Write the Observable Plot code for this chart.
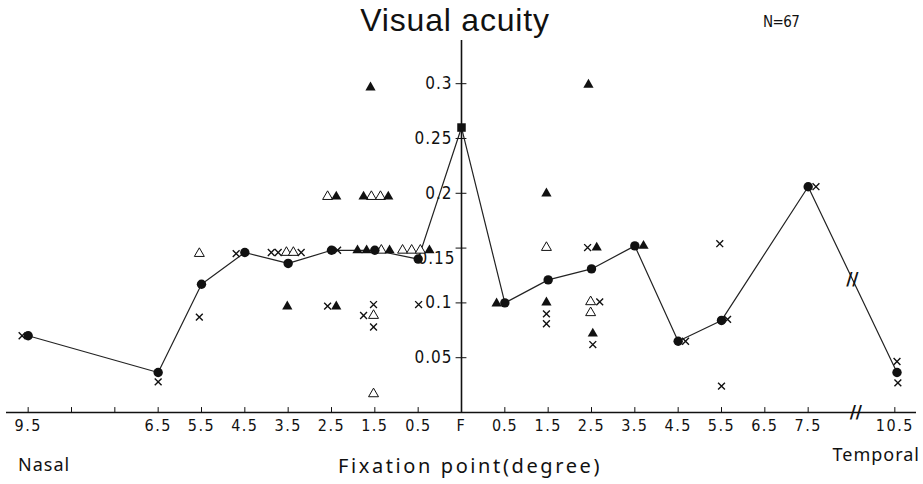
<!DOCTYPE html>
<html><head><meta charset="utf-8">
<script src="https://cdn.jsdelivr.net/npm/d3@7"></script>
<script src="https://cdn.jsdelivr.net/npm/@observablehq/plot@0.6"></script>
<style>body{margin:0;background:#fff;}</style>
</head><body><div id="chart"></div>
<script>
// x positions are "slots": F = 0, nasal negative, temporal positive (axis break before 10.5)
const xTickSlots  = [-10, -9, -8, -7, -6, -5, -4, -3, -2, -1, 0, 1, 2, 3, 4, 5, 6, 7, 8, 10];
const xTickLabels = ["9.5", "", "", "6.5", "5.5", "4.5", "3.5", "2.5", "1.5", "0.5", "F",
                     "0.5", "1.5", "2.5", "3.5", "4.5", "5.5", "6.5", "7.5", "10.5"];
const yTickValues = [0.05, 0.1, 0.15, 0.2, 0.25, 0.3];
const yTickLabels = ["0.05", "0.1", "0.15", "0.2", "0.25", "0.3"];

// mean visual acuity (filled circles, connected)
const meanSlot  = [-10, -7, -6, -5, -4, -3, -2, -1, 0, 1, 2, 3, 4, 5, 6, 8, 10.05];
const meanValue = [0.070, 0.0365, 0.117, 0.146, 0.136, 0.148, 0.148, 0.140, 0.260,
                   0.100, 0.121, 0.131, 0.152, 0.065, 0.084, 0.206, 0.0365];

// individual values: crosses
const crossSlot  = [-10.14, -7.0, -6.05, -5.2, -4.39, -4.23, -3.7, -2.86, -3.09, -2.03, -2.26, -2.03, -0.99,
                    1.96, 1.96, 2.91, 3.19, 3.03, 5.17, 5.96, 6.14, 6.0, 8.18, 10.05, 10.07];
const crossValue = [0.070, 0.028, 0.087, 0.145, 0.146, 0.146, 0.146, 0.148, 0.097, 0.0985, 0.0885, 0.078, 0.0985,
                    0.090, 0.081, 0.1505, 0.101, 0.062, 0.065, 0.154, 0.085, 0.024, 0.206, 0.0465, 0.027];

// filled triangles
const triSlot  = [-4.02, -2.89, -2.89, -2.26, -1.69, -2.4, -2.19, -1.66, -2.1, -0.74,
                  0.81, 1.96, 1.96, 3.12, 3.03, 2.93, 4.2];
const triValue = [0.0967, 0.197, 0.0967, 0.197, 0.197, 0.148, 0.148, 0.148, 0.2965, 0.148,
                  0.0995, 0.1998, 0.1004, 0.1505, 0.072, 0.299, 0.152];

// open triangles
const openSlot  = [-6.05, -4.04, -3.88, -3.09, -2.08, -1.87, -1.85, -2.03, -2.03, -1.36, -1.15, -0.95,
                   1.96, 2.98, 2.98];
const openValue = [0.145, 0.146, 0.146, 0.197, 0.197, 0.197, 0.148, 0.0885, 0.017, 0.148, 0.148, 0.148,
                   0.1505, 0.101, 0.091];

const zip = (xs, ys) => xs.map((x, i) => ({x, y: ys[i]}));
const meanData  = zip(meanSlot, meanValue);
const crossData = zip(crossSlot, crossValue);
const triData   = zip(triSlot, triValue);
const openData  = zip(openSlot, openValue);
const foveaData = meanData.filter(d => d.x === 0);
const circleData = meanData.filter(d => d.x !== 0);

// break mark on the line between 7.5 and 10.5, and on the axis
const a = meanData[meanData.length - 2], b = meanData[meanData.length - 1];
const bx = 9.02;
const breakData = [{x: bx, y: a.y + (b.y - a.y) * (bx - a.x) / (b.x - a.x)}, {x: 9.1, y: 0}];

const narrow = "'Liberation Sans Narrow', 'DejaVu Sans Condensed', 'Arial Narrow', sans-serif";
const ink = "#111";
const yLab = yTickValues.map((v, i) => ({v, t: yTickLabels[i]}));

const chart = Plot.plot({
  width: 923, height: 484,
  marginLeft: 6, marginRight: 7, marginTop: 40, marginBottom: 72,
  x: {domain: [-10.5, 10.5]},
  y: {domain: [0, 0.3394], axis: null},
  style: {background: "#fff", color: ink, fontFamily: narrow},
  marks: [
    Plot.ruleY([0], {stroke: ink, strokeWidth: 1.6}),
    Plot.ruleX([0], {stroke: ink, strokeWidth: 1.6}),
    Plot.ruleX(xTickSlots, {x: d => d, y1: 0, y2: 0.0045, stroke: ink, strokeWidth: 1}),
    Plot.axisX(xTickSlots, {
      tickFormat: d => xTickLabels[xTickSlots.indexOf(d)],
      tickSize: 0, tickPadding: 7, fontSize: 16, label: null, fill: ink
    }),
    Plot.ruleY(yTickValues, {y: d => d, x1: -0.125, x2: 0.125, stroke: ink, strokeWidth: 1}),
    Plot.text(yLab.filter(d => d.t !== "0.15"), {
      x: 0, y: "v", text: "t", dx: -9, textAnchor: "end", fontSize: 17, fill: ink
    }),
    Plot.text(yLab.filter(d => d.t === "0.15"), {
      x: 0, y: "v", text: "t", dx: -6, dy: 10, textAnchor: "end", fontSize: 17, fill: ink
    }),
    Plot.line(meanData, {x: "x", y: "y", stroke: "#222", strokeWidth: 1.2}),
    Plot.text(breakData, {x: "x", y: "y", text: () => "//", fontSize: 17, fontWeight: "bold",
      fill: ink, fontFamily: "'DejaVu Sans', sans-serif"}),
    Plot.dot(openData, {x: "x", y: "y", symbol: "triangle", r: 3.7, fill: "#fff", stroke: ink, strokeWidth: 1}),
    Plot.dot(triData, {x: "x", y: "y", symbol: "triangle", r: 3.8, fill: ink, stroke: "none"}),
    Plot.dot(crossData, {x: "x", y: "y", symbol: "times", r: 3.2, stroke: ink, strokeWidth: 1.4}),
    Plot.dot(circleData, {x: "x", y: "y", r: 4.7, fill: ink, stroke: "none"}),
    Plot.dot(foveaData, {x: "x", y: "y", symbol: "square", r: 4.8, fill: ink, stroke: "none"})
  ]
});

document.getElementById("chart").appendChild(chart);
const svg = d3.select(chart);
svg.selectAll('g[aria-label="x-axis tick label"] text').style("letter-spacing", "1.5px");
svg.selectAll("text").filter(function(){ return /^0\.\d+$/.test(this.textContent); })
  .style("letter-spacing", "1px");

const addText = (txt, x, y, size, anchor, family, spacing) => svg.append("text")
  .attr("x", x).attr("y", y).attr("text-anchor", anchor)
  .attr("font-size", size).attr("font-family", family).attr("fill", ink)
  .style("letter-spacing", spacing + "px").text(txt);

addText("Visual acuity", 455, 31, 32, "middle", "'Liberation Sans', Arial, sans-serif", 0.8);
addText("N=67", 763, 27, 15, "start", narrow, -0.6);
addText("Nasal", 18, 471, 18, "start", "'Noto Sans', sans-serif", 1);
addText("Temporal", 920, 461, 18, "end", "'Noto Sans', sans-serif", 1);
addText("Fixation point(degree)", 470, 473, 20, "middle", "'Noto Sans', sans-serif", 2.6);
</script>
</body></html>
